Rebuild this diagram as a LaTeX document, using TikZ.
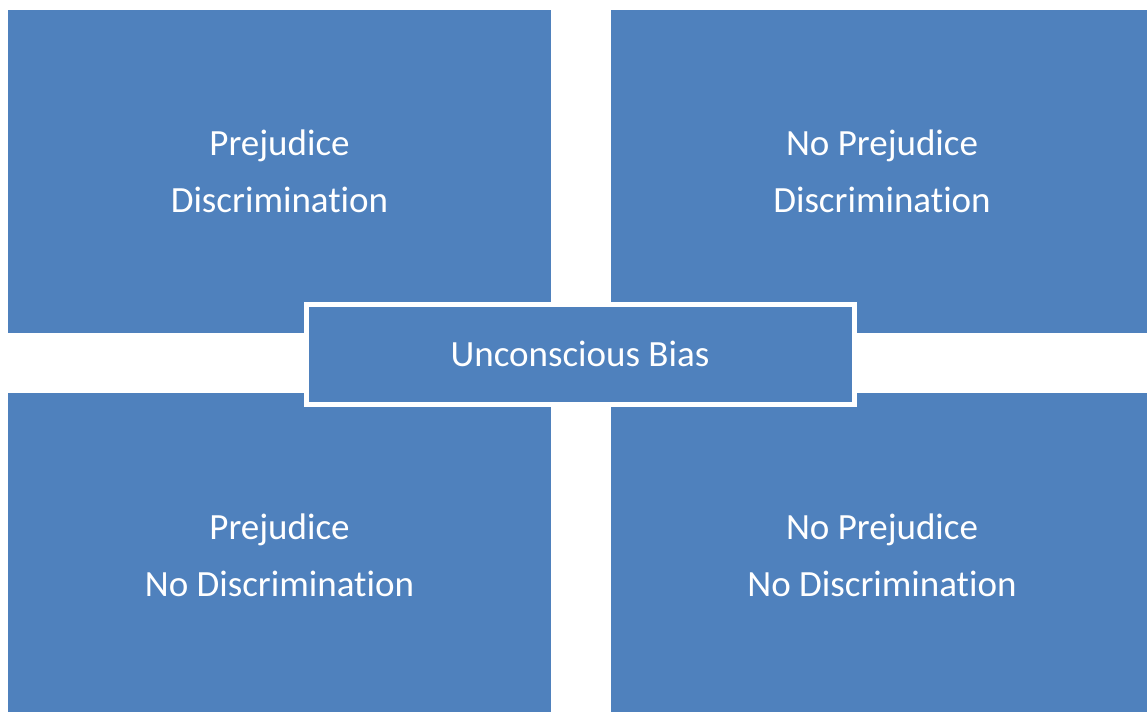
\documentclass[tikz,border=0pt]{standalone}
\usepackage{fontspec}
\setmainfont{Carlito}[Ligatures={NoCommon,NoContextual}]
\definecolor{quadblue}{HTML}{4F81BD}
\begin{document}
\begin{tikzpicture}[x=1pt,y=-1pt,
  quad/.style={fill=quadblue, draw=none, minimum width=#1, inner sep=0pt, outer sep=0pt},
  lbl/.style={text=white, align=center, font=\fontsize{37}{57}\selectfont},
  hub/.style={fill=quadblue, draw=white, line width=5pt, inner sep=0pt, outer sep=0pt,
    minimum width=548pt, minimum height=100pt, text=white, font=\fontsize{37}{44}\selectfont}]
  \useasboundingbox[fill=white] (0,0) rectangle (1147,712);
  % four quadrants
  \node[quad=543pt, minimum height=323pt] (tl) at (279.5,171.5) {};
  \node[quad=536pt, minimum height=323pt] (tr) at (879,171.5) {};
  \node[quad=543pt, minimum height=319pt] (bl) at (279.5,552.5) {};
  \node[quad=536pt, minimum height=319pt] (br) at (879,552.5) {};
  \node[lbl] (tlt) at (279.5,171.5) {Prejudice\\Discrimination};
  \node[lbl] (trt) at (882,171.5) {No Prejudice\\Discrimination};
  \node[lbl] (blt) at (279.5,555) {Prejudice\\No Discrimination};
  \node[lbl] (brt) at (882,555) {No Prejudice\\No Discrimination};
  % central label
  \node[hub] (ub) at (580,354) {Unconscious Bias};
\end{tikzpicture}
\end{document}
